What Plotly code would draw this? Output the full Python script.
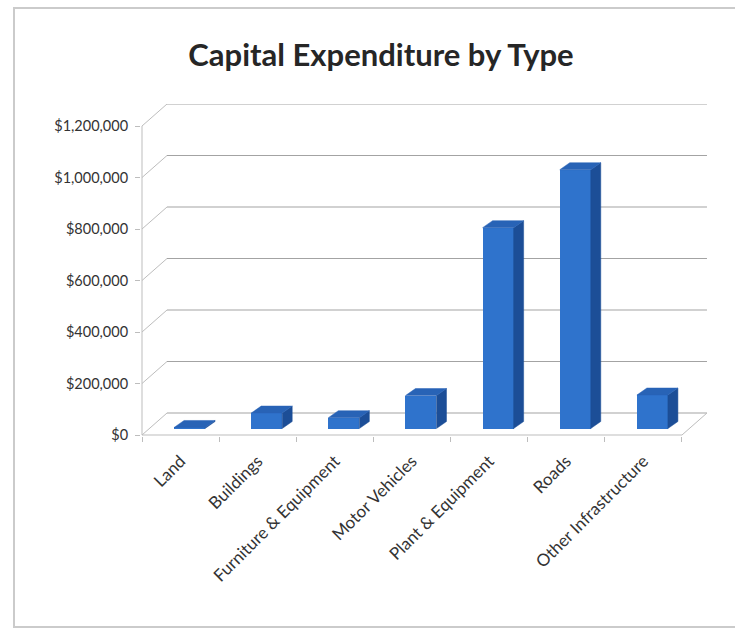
import plotly.graph_objects as go

# ---------------- data ----------------
categories = ["Land", "Buildings", "Furniture & Equipment", "Motor Vehicles",
              "Plant & Equipment", "Roads", "Other Infrastructure"]
values = [4000, 60000, 42000, 128000, 780000, 1005000, 130000]
tick_values = [0, 200000, 400000, 600000, 800000, 1000000, 1200000]
tick_labels = ["$0", "$200,000", "$400,000", "$600,000", "$800,000",
               "$1,000,000", "$1,200,000"]
title_text = "Capital Expenditure by Type"

# ---------------- geometry (pixels -> data units) ----------------
W, H = 735, 628
PX_X = 77.14            # px per category
PX_Y = 257.5 / 1e6      # px per dollar
X0_PX, Y0_PX = 142, 435  # pixel of data origin (front plane)
PL, PR, PT, PB = 141, 708, 104, 436   # plot area pixel box

x_min = -(X0_PX - PL) / PX_X
x_max = (PR - X0_PX) / PX_X
y_min = -(PB - Y0_PX) / PX_Y
y_max = (Y0_PX - PT) / PX_Y

n = len(categories)
DX = 25 / PX_X          # depth offset of back wall
DY = 22 / PX_Y
BW = 31 / PX_X          # bar front-face width
FX = 9 / PX_X           # front face offset from front plane
FY = 6.5 / PX_Y
BX = 10 / PX_X          # bar depth
BY = 7 / PX_Y

centers = [i + 0.5 for i in range(n)]

FRONT = "#2F73CC"
SIDE = "#1C4E97"
TOP = "#2863B6"
GRID = "#A3A3A3"

fig = go.Figure()

# front faces (bars)
fig.add_trace(go.Bar(
    x=[c + FX for c in centers], y=values, base=[FY] * n, width=BW,
    marker=dict(color=FRONT, line=dict(width=0)), xaxis="x", yaxis="y",
    hoverinfo="skip", showlegend=False))

# side and top faces
sx, sy, tx, ty = [], [], [], []
for c, v in zip(centers, values):
    xl = c + FX - BW / 2
    xr = c + FX + BW / 2
    sx += [xr, xr + BX, xr + BX, xr, xr, None]
    sy += [FY, FY + BY, FY + BY + v, FY + v, FY, None]
    tx += [xl, xr, xr + BX, xl + BX, xl, None]
    ty += [FY + v, FY + v, FY + v + BY, FY + v + BY, FY + v, None]
fig.add_trace(go.Scatter(x=sx, y=sy, mode="lines", fill="toself", fillcolor=SIDE,
                         line=dict(width=0.5, color=SIDE), hoverinfo="skip",
                         showlegend=False))
fig.add_trace(go.Scatter(x=tx, y=ty, mode="lines", fill="toself", fillcolor=TOP,
                         line=dict(width=0.5, color=TOP), hoverinfo="skip",
                         showlegend=False))
# helper trace for label axis
fig.add_trace(go.Scatter(x=centers, y=[None] * n, xaxis="x2", yaxis="y",
                         mode="markers", showlegend=False, hoverinfo="skip"))

shapes = []
for tv in tick_values:
    shapes.append(dict(type="line", xref="x", yref="y", layer="below",
                       x0=DX, y0=tv + DY, x1=n + DX, y1=tv + DY,
                       line=dict(color=GRID, width=1)))
    shapes.append(dict(type="line", xref="x", yref="y", layer="below",
                       x0=0, y0=tv, x1=DX, y1=tv + DY,
                       line=dict(color="#BDBDBD", width=1)))
shapes.append(dict(type="line", xref="x", yref="y", layer="below",
                   x0=0, y0=0, x1=n, y1=0, line=dict(color="#BDBDBD", width=1)))
shapes.append(dict(type="line", xref="x", yref="y", layer="below",
                   x0=n, y0=0, x1=n + DX, y1=DY, line=dict(color="#BDBDBD", width=1)))
shapes.append(dict(type="line", xref="x", yref="y", layer="below",
                   x0=0, y0=0, x1=0, y1=tick_values[-1],
                   line=dict(color="#BDBDBD", width=1)))


def px2paper_x(p):
    return (p - PL) / (PR - PL)


def px2paper_y(p):
    return (PB - p) / (PB - PT)


shapes.append(dict(type="rect", xref="paper", yref="paper", layer="below",
                   x0=px2paper_x(14), x1=px2paper_x(745),
                   y0=px2paper_y(627), y1=px2paper_y(8),
                   line=dict(color="#CBCBCB", width=2)))

font_family = "Lato, 'Open Sans', sans-serif"

fig.update_layout(
    width=W, height=H,
    margin=dict(l=PL, r=W - PR, t=PT, b=H - PB),
    paper_bgcolor="white", plot_bgcolor="white",
    showlegend=False,
    bargap=0,
    shapes=shapes,
    title=dict(text="<b>" + title_text + "</b>", xref="container", yref="container",
               x=381 / W, y=1 - 55 / H, xanchor="center", yanchor="middle",
               font=dict(family=font_family, size=31, color="#262626")),
    xaxis=dict(range=[x_min, x_max], tickvals=list(range(n + 1)), ticks="outside",
               ticklen=5, tickcolor="#BDBDBD", showticklabels=False,
               showgrid=False, zeroline=False, showline=False, fixedrange=True),
    xaxis2=dict(range=[x_min, x_max], overlaying="x", side="bottom", anchor="y",
                tickvals=centers, ticktext=categories, tickangle=-45, ticks="",
                showgrid=False, zeroline=False, showline=False,
                ticklabelstandoff=11,
                tickfont=dict(family=font_family, size=17, color="#333333")),
    yaxis=dict(range=[y_min, y_max], tickvals=tick_values, ticktext=tick_labels,
               ticks="outside", ticklen=5, tickcolor="#BDBDBD",
               showgrid=False, zeroline=False, showline=False,
               ticklabelstandoff=4,
               tickfont=dict(family=font_family, size=14.5, color="#333333")),
)

fig.write_html("out.html", config={"displayModeBar": False},
               post_script="document.body.style.margin='0';document.body.style.padding='0';")
